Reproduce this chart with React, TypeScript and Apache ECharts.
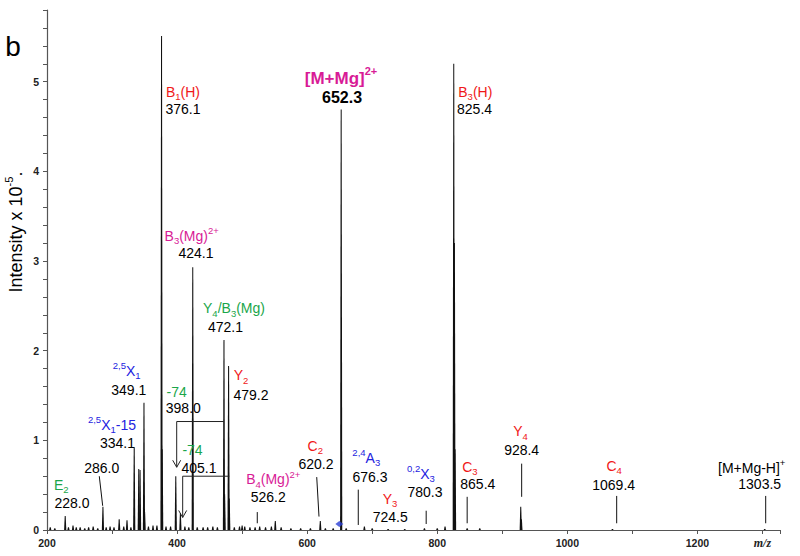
import React, { useEffect, useRef } from "react";
import * as echarts from "echarts";

const FONT = "'Liberation Sans', Arial, sans-serif";

// Spectrum peaks (m/z, intensity x 1e-5)
const peakMz = [
  205, 212, 228.0, 233, 240, 245, 251, 258, 264, 271, 278, 286.0, 291, 297, 303, 311, 318, 323, 329,
  334.1, 341.1, 343.1, 349.1, 350.1, 356, 363, 369, 376.1, 377.1, 383, 390, 398.0, 405.1, 412, 418,
  424.1, 431, 440, 447, 455, 462, 472.1, 473.1, 479.2, 480.2, 488, 496, 500, 504, 512, 520, 527, 536,
  545, 551, 560, 575, 590, 605, 620.2, 628, 640, 652.3, 660, 688, 700, 724.5, 750, 780.3, 800, 812,
  825.4, 826.4, 827.4, 846, 865.4, 928.4, 929.4, 1069.4, 1303.5,
];
const peakIntensity = [
  0.03, 0.02, 0.155, 0.03, 0.05, 0.03, 0.03, 0.02, 0.03, 0.04, 0.02, 0.26, 0.03, 0.04, 0.03, 0.12, 0.04, 0.11, 0.03,
  0.92, 0.68, 0.67, 1.42, 0.2, 0.04, 0.05, 0.05, 5.51, 0.9, 0.04, 0.04, 0.6, 0.19, 0.04, 0.03,
  2.93, 0.03, 0.03, 0.03, 0.04, 0.03, 2.12, 0.4, 1.83, 0.35, 0.03, 0.04, 0.05, 0.04, 0.03, 0.03, 0.04, 0.03,
  0.04, 0.1, 0.03, 0.02, 0.02, 0.02, 0.1, 0.02, 0.02, 4.69, 0.02, 0.04, 0.02, 0.01, 0.01, 0.02, 0.02, 0.04,
  5.2, 3.2, 0.9, 0.02, 0.02, 0.26, 0.12, 0.01, 0.01,
];

// Peak annotations
const labelNames = [
  "B_{1}(H)", "[M+Mg]^{2+}", "B_{3}(H)", "B_{3}(Mg)^{2+}", "Y_{4}/B_{3}(Mg)", "Y_{2}", "^{2,5}X_{1}",
  "-74", "^{2,5}X_{1}-15", "-74", "", "E_{2}", "B_{4}(Mg)^{2+}", "C_{2}", "^{2,4}A_{3}", "Y_{3}",
  "^{0,2}X_{3}", "C_{3}", "Y_{4}", "C_{4}", "[M+Mg-H]^{+}",
];
const labelColors = [
  "r", "M", "r", "m", "g", "r", "b", "g", "b", "g", "k", "g", "m", "r", "b", "r", "b", "r", "r", "r", "k",
];
const labelNamePos = [
  [409.1, 4.89], [652.0, 5.04], [858.5, 4.89], [422.5, 3.282], [487.5, 2.472], [498.3, 1.725],
  [322.5, 1.777], [399.4, 1.535], [299.9, 1.175], [423.7, 0.89], [284.1, 0.88], [222.0, 0.506],
  [547.9, 0.567], [612.5, 0.937], [690.9, 0.807], [727.4, 0.35], [775.0, 0.625], [850.3, 0.705],
  [928.0, 1.104], [1072.1, 0.714], [1283.5, 0.695],
];
const labelValues = [
  "376.1", "652.3", "825.4", "424.1", "472.1", "479.2", "349.1", "398.0", "334.1", "405.1", "286.0",
  "228.0", "526.2", "620.2", "676.3", "724.5", "780.3", "865.4", "928.4", "1069.4", "1303.5",
];
const labelValuePos = [
  [409.1, 4.692], [653.6, 4.826], [857.4, 4.692], [429.1, 3.086], [474.4, 2.264], [513.7, 1.506],
  [325.8, 1.561], [409.6, 1.357], [308.4, 0.967], [433.7, 0.688], [284.1, 0.688], [238.4, 0.298],
  [540.2, 0.368], [613.6, 0.736], [696.6, 0.588], [727.8, 0.148], [781.2, 0.427], [862.4, 0.513],
  [929.8, 0.892], [1071.3, 0.502], [1295.8, 0.513],
];

// Leader lines from labels to peaks: [mz1, i1, mz2, i2]
const leaderLines = [
  [280.4, 0.6, 285.6, 0.27], [523.3, 0.2, 523.3, 0.075], [614.7, 0.59, 618.2, 0.15],
  [678.6, 0.45, 678.6, 0.056], [783, 0.215, 783, 0.067], [846, 0.37, 846, 0.075],
  [929.8, 0.74, 929.8, 0.37], [1075.9, 0.38, 1075.9, 0.075], [1305, 0.38, 1305, 0.075],
];
// Neutral-loss brackets (-74): [mzFrom, i, mzTo, i, mzTo, iArrow]
const lossBrackets = [
  [472.1, 1.21, 399.4, 1.21, 399.4, 0.7],
  [480.3, 0.6, 408.6, 0.6, 408.6, 0.14],
];
const precursorMarker = [[649.5, 0.067]];

const COLORS: Record<string, string> = {
  r: "#f01818",
  m: "#d81b96",
  M: "#d81b96",
  g: "#1aa64a",
  b: "#2323e0",
  k: "#000000",
};

function buildRich() {
  const rich: any = {};
  for (const k of Object.keys(COLORS)) {
    const big = k === "M";
    const col = COLORS[k];
    const w = big ? "bold" : "normal";
    rich[k] = { fill: col, fontSize: big ? 17 : 14, fontWeight: w, fontFamily: FONT, lineHeight: big ? 17 : 14 };
    rich[k + "Sub"] = { fill: col, fontSize: big ? 11 : 9.5, fontWeight: w, fontFamily: FONT, padding: [0, 0, -3, 0], verticalAlign: "bottom" };
    rich[k + "Sup"] = { fill: col, fontSize: big ? 11 : 9.5, fontWeight: w, fontFamily: FONT, padding: [big ? -4 : -3, 0, 0, 0], verticalAlign: "top" };
  }
  rich.n = { fill: "#000", fontSize: 14, fontFamily: FONT, lineHeight: 14 };
  rich.nb = { fill: "#000", fontSize: 16, fontWeight: "bold", fontFamily: FONT, lineHeight: 16 };
  return rich;
}

function toRich(name: string, c: string): string {
  const parts: string[] = [];
  let i = 0;
  let buf = "";
  while (i < name.length) {
    const ch = name[i];
    if ((ch === "_" || ch === "^") && name[i + 1] === "{") {
      if (buf) {
        parts.push(`{${c}|${buf}}`);
        buf = "";
      }
      const end = name.indexOf("}", i);
      const inner = name.slice(i + 2, end);
      parts.push(`{${c}${ch === "_" ? "Sub" : "Sup"}|${inner}}`);
      i = end + 1;
    } else {
      buf += ch;
      i++;
    }
  }
  if (buf) parts.push(`{${c}|${buf}}`);
  return parts.join("");
}

export default function App() {
  const ref = useRef<HTMLDivElement>(null);

  useEffect(() => {
    if (!ref.current) return;
    const chart = echarts.init(ref.current, undefined, { renderer: "svg" });
    const rich = buildRich();

    const option: any = {
      animation: false,
      backgroundColor: "#ffffff",
      grid: { left: 47, right: 20, top: 10, bottom: 26 },
      xAxis: {
        type: "value",
        min: 200,
        max: 1327,
        interval: 100,
        axisLine: { show: true, onZero: false, lineStyle: { color: "#555", width: 1.2 } },
        axisTick: { show: true, length: 4, lineStyle: { color: "#555" } },
        splitLine: { show: false },
        axisLabel: {
          margin: 7,
          fontSize: 10.5,
          fontWeight: "bold",
          fontFamily: FONT,
          color: "#222",
          formatter: (v: number) => {
            if (Math.abs(v - 1300) < 1e-6) return "{i|m/z}";
            if (v <= 1200 && Math.abs(v % 200) < 1e-6) return String(v);
            return "";
          },
          rich: {
            i: { fontStyle: "italic", fontFamily: "'Liberation Serif', 'Times New Roman', serif", fontSize: 12, color: "#222" },
          },
        },
      },
      yAxis: {
        type: "value",
        min: 0,
        max: 5.8,
        interval: 0.2,
        axisLine: { show: true, lineStyle: { color: "#555", width: 1.2 } },
        axisTick: { show: true, length: 4, lineStyle: { color: "#555" } },
        splitLine: { show: false },
        axisLabel: {
          margin: 8,
          fontSize: 10.5,
          fontWeight: "bold",
          fontFamily: FONT,
          color: "#222",
          formatter: (v: number) => (Math.abs(v - Math.round(v)) < 1e-6 ? String(Math.round(v)) : ""),
        },
      },
      graphic: [
        {
          type: "text",
          x: 13,
          y: 46,
          style: { text: "b", fill: "#000", fontSize: 28, fontFamily: FONT, align: "center", verticalAlign: "middle" },
        },
        {
          type: "text",
          x: 16,
          y: 232,
          rotation: Math.PI / 2,
          style: {
            text: "{t|Intensity x 10}{s|-5}{t|.}",
            align: "center",
            verticalAlign: "middle",
            rich: {
              t: { fill: "#000", fontSize: 18, fontFamily: FONT, lineHeight: 18 },
              s: { fill: "#000", fontSize: 11, fontFamily: FONT, padding: [-4, 0, 0, 0], verticalAlign: "top" },
            },
          },
        },
      ],
      series: [
        {
          type: "custom",
          name: "spectrum",
          silent: true,
          clip: false,
          data: peakMz.map((m, i) => [m, peakIntensity[i]]),
          renderItem: (_params: any, api: any) => {
            const top = api.coord([api.value(0), api.value(1)]);
            const base = api.coord([api.value(0), 0]);
            const w = 1.1;
            const t = 0.5;
            return {
              type: "polygon",
              shape: {
                points: [
                  [base[0] - w, base[1]],
                  [top[0] - t, top[1]],
                  [top[0] + t, top[1]],
                  [base[0] + w, base[1]],
                ],
              },
              style: { fill: "#111" },
            };
          },
        },
        {
          type: "custom",
          name: "leaders",
          silent: true,
          clip: false,
          data: leaderLines,
          renderItem: (_params: any, api: any) => {
            const a = api.coord([api.value(0), api.value(1)]);
            const b = api.coord([api.value(2), api.value(3)]);
            return {
              type: "line",
              shape: { x1: a[0], y1: a[1], x2: b[0], y2: b[1] },
              style: { stroke: "#111", lineWidth: 1 },
            };
          },
        },
        {
          type: "custom",
          name: "brackets",
          silent: true,
          clip: false,
          data: lossBrackets,
          renderItem: (_params: any, api: any) => {
            const p1 = api.coord([api.value(0), api.value(1)]);
            const p2 = api.coord([api.value(2), api.value(3)]);
            const p3 = api.coord([api.value(4), api.value(5)]);
            return {
              type: "group",
              children: [
                {
                  type: "polyline",
                  shape: { points: [p1, p2, p3] },
                  style: { stroke: "#222", lineWidth: 1, fill: null },
                },
                {
                  type: "polyline",
                  shape: { points: [[p3[0] - 4, p3[1] - 7], p3, [p3[0] + 4, p3[1] - 7]] },
                  style: { stroke: "#222", lineWidth: 1, fill: null },
                },
              ],
            };
          },
        },
        {
          type: "scatter",
          name: "precursor",
          silent: true,
          symbol: "diamond",
          symbolSize: [8, 6],
          itemStyle: { color: "#2a3fd6" },
          data: precursorMarker,
        },
        {
          type: "custom",
          name: "labels",
          silent: true,
          clip: false,
          data: labelValues.map((_v, i) => [labelValuePos[i][0], labelValuePos[i][1], labelNamePos[i][0], labelNamePos[i][1]]),
          renderItem: (params: any, api: any) => {
            const i = params.dataIndex;
            const vp = api.coord([api.value(0), api.value(1)]);
            const np = api.coord([api.value(2), api.value(3)]);
            const big = labelColors[i] === "M";
            const children: any[] = [
              {
                type: "text",
                style: {
                  text: `{${big ? "nb" : "n"}|${labelValues[i]}}`,
                  rich,
                  x: vp[0],
                  y: vp[1],
                  align: "center",
                  verticalAlign: "middle",
                },
              },
            ];
            if (labelNames[i]) {
              children.push({
                type: "text",
                style: {
                  text: toRich(labelNames[i], labelColors[i]),
                  rich,
                  x: np[0],
                  y: np[1],
                  align: "center",
                  verticalAlign: "middle",
                },
              });
            }
            return { type: "group", children };
          },
        },
      ],
    };

    chart.setOption(option);
    return () => chart.dispose();
  }, []);

  return (
    <div
      ref={ref}
      style={{ position: "absolute", left: 0, top: 0, width: 800, height: 556, background: "#fff" }}
    />
  );
}
